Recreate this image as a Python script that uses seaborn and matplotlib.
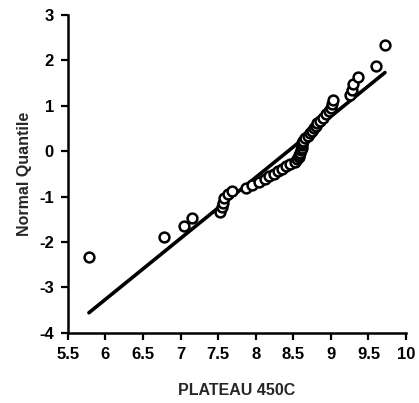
import matplotlib
matplotlib.use("Agg")
import matplotlib.pyplot as plt
import numpy as np
import pandas as pd
import seaborn as sns

# PLATEAU 450C measurements, sorted ascending
plateau = [5.78, 6.78, 7.05, 7.15, 7.52, 7.55, 7.57, 7.58, 7.63, 7.68,
           7.87, 7.95, 8.05, 8.12, 8.17, 8.24, 8.30, 8.35, 8.40, 8.46,
           8.52, 8.55, 8.57, 8.58, 8.59, 8.60, 8.61, 8.62, 8.62, 8.63,
           8.66, 8.70, 8.72, 8.75, 8.78, 8.80, 8.82, 8.85, 8.90, 8.94,
           8.98, 9.00, 9.02, 9.03, 9.25, 9.28, 9.29, 9.36, 9.60, 9.72]

# Normal quantiles for each rank, (i - 0.5) / n plotting positions
normal_q = [-2.33, -1.88, -1.64, -1.48, -1.34, -1.23, -1.13, -1.04, -0.95, -0.88,
            -0.81, -0.74, -0.67, -0.61, -0.55, -0.50, -0.44, -0.39, -0.33, -0.28,
            -0.23, -0.18, -0.13, -0.08, -0.03, 0.03, 0.08, 0.13, 0.18, 0.23,
            0.28, 0.33, 0.39, 0.44, 0.50, 0.55, 0.61, 0.67, 0.74, 0.81,
            0.88, 0.95, 1.04, 1.13, 1.23, 1.34, 1.48, 1.64, 1.88, 2.33]

# Fitted normal reference line
fit_mean = 8.43
fit_sd = 0.745

x_ticks = [5.5, 6, 6.5, 7, 7.5, 8, 8.5, 9, 9.5, 10]
x_tick_labels = ["5.5", "6", "6.5", "7", "7.5", "8", "8.5", "9", "9.5", "10"]
y_ticks = [-4, -3, -2, -1, 0, 1, 2, 3]

sns.set_style("ticks")
plt.rcParams["font.family"] = ["Liberation Sans", "DejaVu Sans"]
plt.rcParams["axes.unicode_minus"] = False

df = pd.DataFrame({"PLATEAU 450C": plateau, "Normal Quantile": normal_q})
line_x = np.array([min(plateau), max(plateau)])
line_df = pd.DataFrame({"x": line_x, "z": (line_x - fit_mean) / fit_sd})

fig = plt.figure(figsize=(4.19, 4.03), dpi=100)
ax = fig.add_axes([0.162, 0.174, 0.807, 0.789])

sns.lineplot(data=line_df, x="x", y="z", ax=ax, color="black", linewidth=2.6)
sns.scatterplot(data=df, x="PLATEAU 450C", y="Normal Quantile", ax=ax,
                marker="o", s=50, facecolor="white", edgecolor="black",
                linewidth=1.8, zorder=3)

ax.set_xlim(5.5, 10)
ax.set_ylim(-4, 3)
ax.set_xticks(x_ticks)
ax.set_xticklabels(x_tick_labels)
ax.set_yticks(y_ticks)
ax.tick_params(axis="both", direction="out", length=5, width=1.6,
               color="black", labelsize=12, labelcolor="black", pad=5)
for lab in ax.get_xticklabels() + ax.get_yticklabels():
    lab.set_fontweight("bold")
for side in ["left", "bottom"]:
    ax.spines[side].set_linewidth(1.8)
    ax.spines[side].set_color("black")
sns.despine(ax=ax)

ax.set_xlabel("PLATEAU 450C", fontsize=11.5, fontweight="bold", labelpad=15)
ax.set_ylabel("Normal Quantile", fontsize=11.5, fontweight="bold", labelpad=5)

fig.savefig("out.png", dpi=100)
